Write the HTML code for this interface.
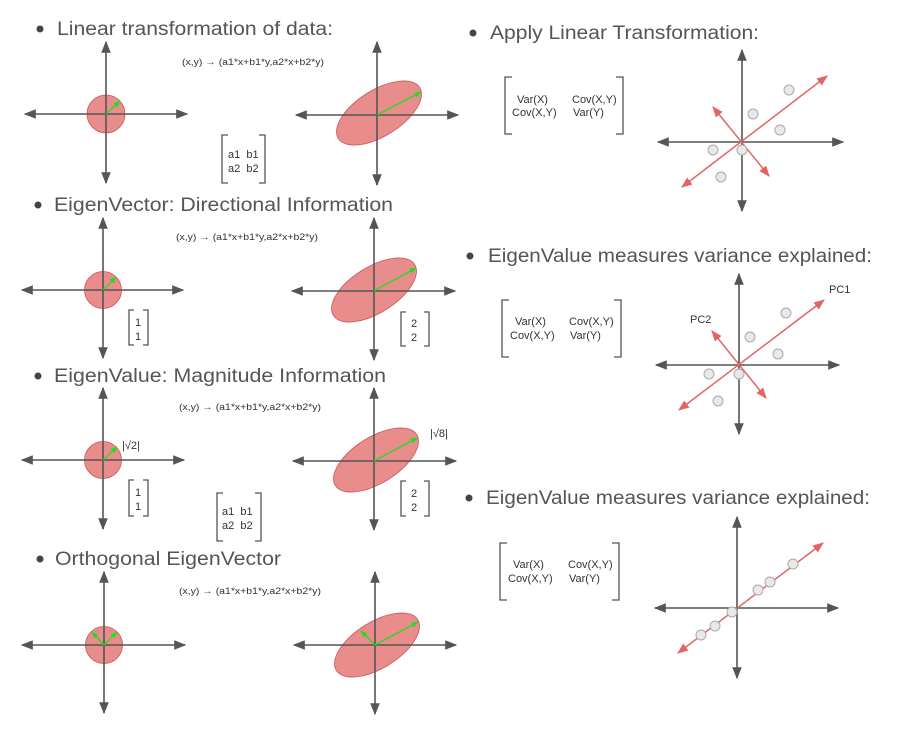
<!DOCTYPE html>
<html><head><meta charset="utf-8"><style>
html,body{margin:0;padding:0;background:#fff;}
svg{display:block;}
text{font-family:"Liberation Sans",sans-serif;fill:#444;}
.t{font-size:19px;fill:#555;}
.f{font-size:9.5px;fill:#333;}
.m{font-size:11px;fill:#333;}
</style></head><body>
<svg width="909" height="737" viewBox="0 0 909 737" xmlns="http://www.w3.org/2000/svg">
<defs>
<marker id="ga" viewBox="0 0 10 10" refX="9" refY="5" markerWidth="12" markerHeight="12" markerUnits="userSpaceOnUse" orient="auto-start-reverse"><path d="M0,1 L10,5 L0,9 Z" fill="#555"/></marker>
<marker id="ra" viewBox="0 0 10 10" refX="9" refY="5" markerWidth="11" markerHeight="11" markerUnits="userSpaceOnUse" orient="auto-start-reverse"><path d="M0,1 L10,5 L0,9 Z" fill="#e06666"/></marker>
<marker id="gr" viewBox="0 0 10 10" refX="9" refY="5" markerWidth="7" markerHeight="7" markerUnits="userSpaceOnUse" orient="auto"><path d="M0,1 L10,5 L0,9 Z" fill="#22dd22"/></marker>
</defs>

<g fill="#444">
<circle cx="40" cy="29" r="3.5"/><circle cx="38" cy="205" r="3.5"/><circle cx="38" cy="376" r="3.5"/><circle cx="40" cy="559" r="3.5"/>
<circle cx="473" cy="33" r="3.5"/><circle cx="470" cy="256" r="3.5"/><circle cx="469" cy="498" r="3.5"/>
</g>
<text class="t" x="57" y="35" textLength="276" lengthAdjust="spacingAndGlyphs">Linear transformation of data:</text>
<text class="t" x="54" y="211" textLength="339" lengthAdjust="spacingAndGlyphs">EigenVector: Directional Information</text>
<text class="t" x="54" y="382" textLength="332" lengthAdjust="spacingAndGlyphs">EigenValue: Magnitude Information</text>
<text class="t" x="55" y="565" textLength="226" lengthAdjust="spacingAndGlyphs">Orthogonal EigenVector</text>
<text class="t" x="490" y="39" textLength="269" lengthAdjust="spacingAndGlyphs">Apply Linear Transformation:</text>
<text class="t" x="488" y="262" textLength="384" lengthAdjust="spacingAndGlyphs">EigenValue measures variance explained:</text>
<text class="t" x="486" y="504" textLength="384" lengthAdjust="spacingAndGlyphs">EigenValue measures variance explained:</text>

<text class="f" x="182" y="65" textLength="142" lengthAdjust="spacingAndGlyphs">(x,y) → (a1*x+b1*y,a2*x+b2*y)</text>
<text class="f" x="176" y="240" textLength="142" lengthAdjust="spacingAndGlyphs">(x,y) → (a1*x+b1*y,a2*x+b2*y)</text>
<text class="f" x="179" y="410" textLength="142" lengthAdjust="spacingAndGlyphs">(x,y) → (a1*x+b1*y,a2*x+b2*y)</text>
<text class="f" x="179" y="594" textLength="142" lengthAdjust="spacingAndGlyphs">(x,y) → (a1*x+b1*y,a2*x+b2*y)</text>

<!-- shapes -->
<g fill="#e06666" fill-opacity="0.75" stroke="#cc5555" stroke-width="0.8">
<circle cx="106" cy="114" r="19"/>
<ellipse cx="379" cy="113" rx="48" ry="23" transform="rotate(-32 379 113)"/>
<circle cx="103" cy="290" r="18.5"/>
<ellipse cx="374" cy="290" rx="48" ry="23" transform="rotate(-32 374 290)"/>
<circle cx="103" cy="460" r="18.5"/>
<ellipse cx="376" cy="460" rx="48" ry="23" transform="rotate(-32 376 460)"/>
<circle cx="104" cy="645" r="18.5"/>
<ellipse cx="377" cy="645" rx="48" ry="23" transform="rotate(-32 377 645)"/>
</g>

<!-- gray axes -->
<g stroke="#555" stroke-width="1.6" fill="none" marker-start="url(#ga)" marker-end="url(#ga)">
<line x1="106" y1="42" x2="106" y2="183"/><line x1="25" y1="114" x2="187" y2="114"/>
<line x1="377" y1="42" x2="377" y2="185"/><line x1="296" y1="115" x2="458" y2="115"/>
<line x1="103" y1="218" x2="103" y2="358"/><line x1="22" y1="290" x2="183" y2="290"/>
<line x1="374" y1="218" x2="374" y2="360"/><line x1="292" y1="291" x2="455" y2="291"/>
<line x1="103" y1="388" x2="103" y2="529"/><line x1="22" y1="460" x2="184" y2="460"/>
<line x1="374" y1="388" x2="374" y2="530"/><line x1="293" y1="461" x2="456" y2="461"/>
<line x1="104" y1="572" x2="104" y2="713"/><line x1="22" y1="645" x2="185" y2="645"/>
<line x1="375" y1="572" x2="375" y2="714"/><line x1="294" y1="645" x2="456" y2="645"/>
<line x1="742" y1="50" x2="742" y2="211"/><line x1="658" y1="142" x2="843" y2="142"/>
<line x1="739" y1="274" x2="739" y2="434"/><line x1="656" y1="365" x2="839" y2="365"/>
<line x1="737" y1="517" x2="737" y2="678"/><line x1="655" y1="608" x2="838" y2="608"/>
</g>

<!-- green arrows -->
<g stroke="#22dd22" stroke-width="1.3" marker-end="url(#gr)">
<line x1="106" y1="114" x2="120" y2="101"/>
<line x1="377" y1="115" x2="421" y2="92"/>
<line x1="103" y1="290" x2="116" y2="277"/>
<line x1="374" y1="291" x2="416" y2="268"/>
<line x1="103" y1="460" x2="117" y2="447"/>
<line x1="374" y1="461" x2="417" y2="438"/>
<line x1="104" y1="645" x2="117" y2="632"/>
<line x1="104" y1="645" x2="92" y2="632"/>
<line x1="375" y1="645" x2="418" y2="622"/>
<line x1="375" y1="645" x2="361" y2="631"/>
</g>

<!-- brackets -->
<g stroke="#555" stroke-width="1.3" fill="none">
<path d="M228,135 H222 V183 H228 M259,135 H265 V183 H259"/>
<path d="M134,310 H129 V345 H134 M143,310 H148 V345 H143"/>
<path d="M406,312 H401 V346 H406 M424,312 H429 V346 H424"/>
<path d="M134,480 H129 V516 H134 M143,480 H148 V516 H143"/>
<path d="M223,493 H217 V541 H223 M255,493 H261 V541 H255"/>
<path d="M406,481 H401 V516 H406 M424,481 H429 V516 H424"/>
<path d="M512,77 H505 V134 H512 M616,77 H623 V134 H616"/>
<path d="M509,300 H502 V357 H509 M614,300 H621 V357 H614"/>
<path d="M507,543 H500 V600 H507 M612,543 H619 V600 H612"/>
</g>
<g class="m">
<text class="m" x="228" y="158">a1 &#160;b1</text><text class="m" x="228" y="172">a2 &#160;b2</text>
<text class="m" x="135" y="326">1</text><text class="m" x="135" y="340">1</text>
<text class="m" x="411" y="327">2</text><text class="m" x="411" y="341">2</text>
<text class="m" x="135" y="496">1</text><text class="m" x="135" y="510">1</text>
<text class="m" x="411" y="497">2</text><text class="m" x="411" y="511">2</text>
<text class="m" x="222" y="515">a1 &#160;b1</text><text class="m" x="222" y="529">a2 &#160;b2</text>
<text class="m" x="122" y="449">|√2|</text>
<text class="m" x="430" y="437">|√8|</text>
<text class="m" x="517" y="103">Var(X)</text><text class="m" x="572" y="103">Cov(X,Y)</text>
<text class="m" x="512" y="116">Cov(X,Y)</text><text class="m" x="573" y="116">Var(Y)</text>
<text class="m" x="515" y="325">Var(X)</text><text class="m" x="569" y="325">Cov(X,Y)</text>
<text class="m" x="510" y="339">Cov(X,Y)</text><text class="m" x="570" y="339">Var(Y)</text>
<text class="m" x="513" y="568">Var(X)</text><text class="m" x="568" y="568">Cov(X,Y)</text>
<text class="m" x="508" y="582">Cov(X,Y)</text><text class="m" x="569" y="582">Var(Y)</text>
<text class="m" x="829" y="293">PC1</text>
<text class="m" x="690" y="323">PC2</text>
</g>

<!-- red lines -->
<g stroke="#e06666" stroke-width="1.5" marker-start="url(#ra)" marker-end="url(#ra)">
<line x1="682" y1="187" x2="827" y2="76"/>
<line x1="713" y1="107" x2="769" y2="176"/>
<line x1="679" y1="410" x2="824" y2="300"/>
<line x1="712" y1="331" x2="766" y2="398"/>
<line x1="678" y1="653" x2="823" y2="543"/>
</g>

<!-- points -->
<g fill="#e8e8e8" stroke="#aaa" stroke-width="1">
<circle cx="789" cy="90" r="5"/><circle cx="753" cy="114" r="5"/><circle cx="780" cy="130" r="5"/><circle cx="713" cy="150" r="5"/><circle cx="742" cy="150" r="5"/><circle cx="721" cy="177" r="5"/>
<circle cx="786" cy="313" r="5"/><circle cx="750" cy="337" r="5"/><circle cx="778" cy="354" r="5"/><circle cx="709" cy="374" r="5"/><circle cx="739" cy="374" r="5"/><circle cx="718" cy="401" r="5"/>
<circle cx="793" cy="564" r="5"/><circle cx="770" cy="582" r="5"/><circle cx="758" cy="590" r="5"/><circle cx="732" cy="612" r="5"/><circle cx="715" cy="626" r="5"/><circle cx="701" cy="635" r="5"/>
</g>
</svg>
</body></html>
